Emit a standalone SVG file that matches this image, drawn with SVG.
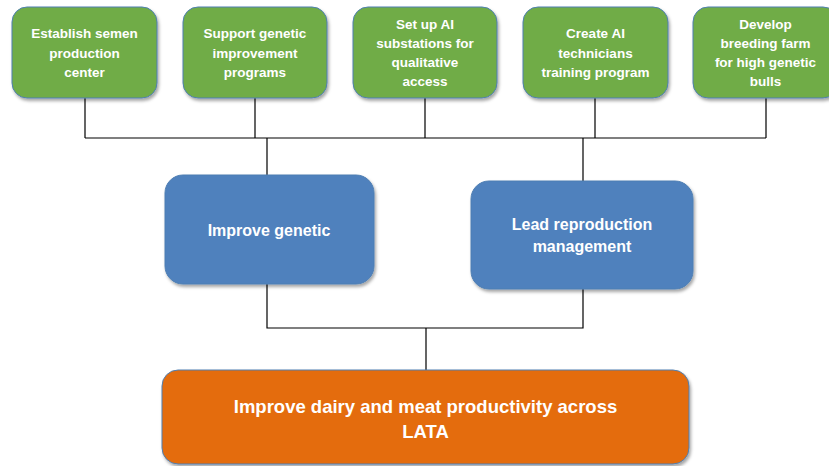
<svg xmlns="http://www.w3.org/2000/svg" width="829" height="466" viewBox="0 0 829 466">
  <style>
    .box { stroke: #4f7fb3; stroke-width: 1; filter: url(#shadow); }
    .green { fill: #6fac46; }
    .blue { fill: #4f81bd; }
    .orange { fill: #e46c0a; }
    .lbl { font-family: "Liberation Sans", Arial, sans-serif; font-weight: bold; fill: #ffffff; text-anchor: middle; }
    .sm { font-size: 13.5px; }
    .md { font-size: 16px; }
    .lg { font-size: 18.5px; }
    .wire { fill: none; stroke: #000000; stroke-width: 1.2; }
  </style>
  <defs>
    <filter id="shadow" x="-10%" y="-10%" width="125%" height="130%">
      <feDropShadow dx="1.5" dy="2.5" stdDeviation="1.8" flood-color="#000000" flood-opacity="0.35"/>
    </filter>
  </defs>
  <rect width="829" height="466" fill="#ffffff"/>

  <g id="connectors">
    <path class="wire" d="M85 98 V138 M255 98 V138 M425 98 V138 M595 98 V138 M766 98 V138 M85 138 H766"/>
    <path class="wire" d="M267 138 V177 M583 138 V182"/>
    <path class="wire" d="M267 284 V328 H583 V289 M426 328 V371"/>
  </g>

  <g id="semen-center">
    <rect class="box green" x="12" y="7" width="145" height="91" rx="15"/>
    <text class="lbl sm" x="84.5" y="38">Establish semen</text>
    <text class="lbl sm" x="84.5" y="57.5">production</text>
    <text class="lbl sm" x="84.5" y="77">center</text>
  </g>

  <g id="genetic-programs">
    <rect class="box green" x="183" y="7" width="144" height="91" rx="15"/>
    <text class="lbl sm" x="255" y="38">Support genetic</text>
    <text class="lbl sm" x="255" y="57.5">improvement</text>
    <text class="lbl sm" x="255" y="77">programs</text>
  </g>

  <g id="ai-substations">
    <rect class="box green" x="353" y="7" width="144" height="91" rx="15"/>
    <text class="lbl sm" x="425" y="28.5">Set up AI</text>
    <text class="lbl sm" x="425" y="48">substations for</text>
    <text class="lbl sm" x="425" y="67">qualitative</text>
    <text class="lbl sm" x="425" y="86">access</text>
  </g>

  <g id="ai-training">
    <rect class="box green" x="523" y="7" width="145" height="91" rx="15"/>
    <text class="lbl sm" x="595.5" y="38">Create AI</text>
    <text class="lbl sm" x="595.5" y="57.5">technicians</text>
    <text class="lbl sm" x="595.5" y="77">training program</text>
  </g>

  <g id="breeding-farm">
    <rect class="box green" x="693" y="7" width="145" height="91" rx="15"/>
    <text class="lbl sm" x="765.5" y="28.5">Develop</text>
    <text class="lbl sm" x="765.5" y="48">breeding farm</text>
    <text class="lbl sm" x="765.5" y="67">for high genetic</text>
    <text class="lbl sm" x="765.5" y="86">bulls</text>
  </g>

  <g id="improve-genetic">
    <rect class="box blue" x="165" y="175" width="209" height="109" rx="18"/>
    <text class="lbl md" x="269" y="236">Improve genetic</text>
  </g>

  <g id="reproduction">
    <rect class="box blue" x="471" y="181" width="222" height="108" rx="18"/>
    <text class="lbl md" x="582" y="230">Lead reproduction</text>
    <text class="lbl md" x="582" y="252">management</text>
  </g>

  <g id="productivity">
    <rect class="box orange" x="162" y="370" width="527" height="94" rx="16"/>
    <text class="lbl lg" x="425.5" y="413">Improve dairy and meat productivity across</text>
    <text class="lbl lg" x="425.5" y="438">LATA</text>
  </g>
</svg>
